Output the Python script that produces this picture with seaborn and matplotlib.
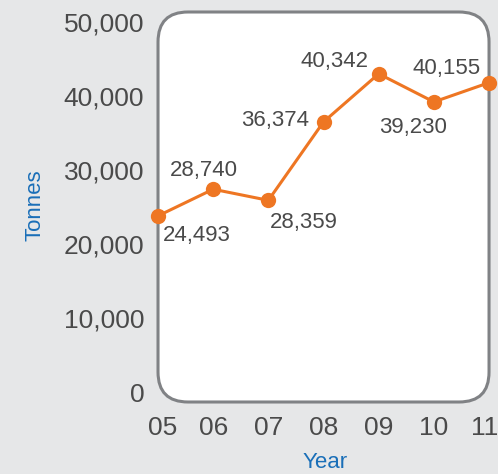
import seaborn as sns
import pandas as pd
import matplotlib.pyplot as plt
import matplotlib.transforms as mtransforms
from matplotlib.patches import FancyBboxPatch

# data
years = ["05", "06", "07", "08", "09", "10", "11"]
# point heights as drawn in the picture
tonnes = [23800, 27400, 25900, 36500, 43000, 39200, 41800]
# the printed labels
value_labels = ["24,493", "28,740", "28,359", "36,374", "40,342", "39,230", "40,155"]
y_ticks = [0, 10000, 20000, 30000, 40000, 50000]

orange = "#EE7623"
grey_text = "#4A4A4A"
blue = "#1A6FB8"
bg = "#E6E7E8"

sns.set_style("white")
plt.rcParams["font.family"] = ["Liberation Sans", "DejaVu Sans"]

df = pd.DataFrame({"x": range(len(years)), "Tonnes": tonnes})

fig = plt.figure(figsize=(4.98, 4.74), dpi=100, facecolor=bg)
ax = fig.add_axes([0.3173, 0.1519, 0.6647, 0.8228])
ax.patch.set_visible(False)
for s in ax.spines.values():
    s.set_visible(False)

# rounded white plot area
box = FancyBboxPatch((0, 0), 1, 1, boxstyle="round,pad=0,rounding_size=0.0906",
                     mutation_aspect=331 / 390, transform=ax.transAxes,
                     facecolor="white", edgecolor="#808285", linewidth=2.2,
                     clip_on=False, zorder=0)
ax.add_patch(box)

sns.lineplot(data=df, x="x", y="Tonnes", ax=ax, color=orange, linewidth=2.2,
             marker="o", markersize=11, markeredgewidth=0, clip_on=False, zorder=3)

ax.set_xlim(0, 6)
ax.set_ylim(-1350, 51350)
ax.set_xticks(range(len(years)))
ax.set_xticklabels(years)
ax.set_yticks(y_ticks)
ax.set_yticklabels([f"{v:,}" for v in y_ticks])
ax.tick_params(axis="both", length=0, labelsize=19, labelcolor=grey_text)
ax.tick_params(axis="y", pad=10)
ax.tick_params(axis="x", pad=10)

# nudge the end year labels inward a little, like the original
xlabels = ax.get_xticklabels()
for lab, dx in [(xlabels[0], 5), (xlabels[-1], -4)]:
    lab.set_transform(lab.get_transform() +
                      mtransforms.ScaledTranslation(dx / 100, 0, fig.dpi_scale_trans))

ax.set_xlabel("")
ax.set_ylabel("")
fig.text(325 / 498, 1 - 463 / 474, "Year", color=blue, fontsize=16,
         ha="center", va="center")
fig.text(35 / 498, 1 - 205 / 474, "Tonnes", color=blue, fontsize=16,
         ha="center", va="center", rotation=90)

# label offsets in pixels (dx, dy, ha)
offsets = [(39, -20, "center"), (-9, 19, "center"), (35, -22, "center"),
           (-14, 1, "right"), (-10, 12, "right"), (-21, -26, "center"),
           (-42, 14, "center")]
for i, (lab, (dx, dy, ha)) in enumerate(zip(value_labels, offsets)):
    ax.annotate(lab, (i, tonnes[i]), xytext=(dx, dy), textcoords="offset pixels",
                ha=ha, va="center", fontsize=16, color=grey_text, zorder=4)

fig.savefig("out.png", dpi=100, facecolor=bg)
